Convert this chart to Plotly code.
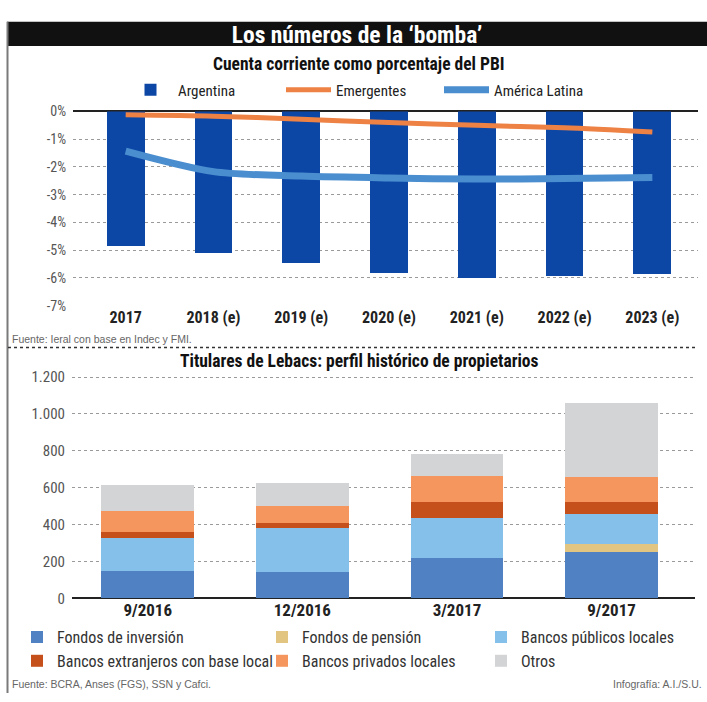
import plotly.graph_objects as go

# ---------------- data ----------------
years = ["2017", "2018 (e)", "2019 (e)", "2020 (e)", "2021 (e)", "2022 (e)", "2023 (e)"]
argentina = [-4.86, -5.09, -5.47, -5.82, -6.02, -5.95, -5.87]
emergentes = [-0.12, -0.17, -0.28, -0.40, -0.50, -0.59, -0.74]
america_latina = [-1.43, -2.17, -2.33, -2.40, -2.44, -2.42, -2.38]
pct_tickvals = [0, -1, -2, -3, -4, -5, -6, -7]
pct_ticktext = ["0%", "-1%", "-2%", "-3%", "-4%", "-5%", "-6%", "-7%"]

periodos = ["9/2016", "12/2016", "3/2017", "9/2017"]
fondos_inversion = [150, 145, 217, 250]
fondos_pension = [0, 0, 0, 43]
bancos_publicos = [176, 234, 219, 162]
bancos_extranjeros = [36, 32, 86, 66]
bancos_privados = [113, 90, 140, 136]
otros = [141, 122, 120, 402]
leb_tickvals = [0, 200, 400, 600, 800, 1000, 1200]
leb_ticktext = ["0", "200", "400", "600", "800", "1.000", "1.200"]

# ---------------- style ----------------
W, H = 707, 702
FONT = "Liberation Sans Narrow, Roboto Condensed, DejaVu Sans Condensed, Arial Narrow, Roboto, sans-serif"
SMALL = "Liberation Sans, Arial, Roboto, sans-serif"

def px_x(p):
    return p / W

def px_y(p):
    return 1 - p / H

fig = go.Figure()

# top chart
fig.add_trace(go.Bar(
    x=years, y=argentina, name="Argentina", width=0.43,
    marker=dict(color="#0d47a6", line=dict(width=0)),
    xaxis="x", yaxis="y", legend="legend"))
fig.add_trace(go.Scatter(
    x=years, y=emergentes, name="Emergentes", mode="lines",
    line=dict(color="#ee8245", width=5, shape="spline", smoothing=0.8),
    xaxis="x", yaxis="y", legend="legend"))
fig.add_trace(go.Scatter(
    x=years, y=america_latina, name="América Latina", mode="lines",
    line=dict(color="#4a8ecf", width=7, shape="spline", smoothing=0.8),
    xaxis="x", yaxis="y", legend="legend"))

# bottom chart (stack order bottom -> top); legend column for each series
stack = [
    ("Fondos de inversión", fondos_inversion, "#4f81c3", "legend2"),
    ("Fondos de pensión", fondos_pension, "#e3c582", "legend3"),
    ("Bancos públicos locales", bancos_publicos, "#84c0e9", "legend4"),
    ("Bancos extranjeros con base local", bancos_extranjeros, "#c5501c", "legend2"),
    ("Bancos privados locales", bancos_privados, "#f5965f", "legend3"),
    ("Otros", otros, "#d3d4d6", "legend4"),
]
for name, vals, col, leg in stack:
    fig.add_trace(go.Bar(
        x=periodos, y=vals, name=name, width=0.6, legendgroup=name,
        marker=dict(color=col, line=dict(width=0)),
        xaxis="x2", yaxis="y2", legend=leg))

grid = dict(showgrid=True, gridcolor="#9a9a9a", gridwidth=1, griddash="3px,3px")

def col_legend(xpx):
    return dict(orientation="v", x=px_x(xpx), xanchor="left", y=px_y(657), yanchor="middle",
                bgcolor="rgba(0,0,0,0)", tracegroupgap=3,
                font=dict(size=16, color="#333"), traceorder="normal")

fig.update_layout(
    width=W, height=H, autosize=False,
    margin=dict(l=0, r=0, t=0, b=0),
    paper_bgcolor="white", plot_bgcolor="white",
    font=dict(family=FONT, color="#333"),
    barmode="stack",
    showlegend=True,
    title=dict(text="Los números de la ‘bomba’", x=px_x(357), xanchor="center",
               y=px_y(27), yanchor="middle", yref="paper",
               font=dict(family=FONT, size=23.5, color="white", weight="bold")),
    xaxis=dict(domain=[px_x(73), px_x(698)], anchor="y", range=[-0.6, 6.52],
               showgrid=False, showline=False, ticks="",
               tickfont=dict(size=16, color="#222", weight="bold")),
    yaxis=dict(domain=[px_y(305), px_y(106)], anchor="x", range=[-7, 0],
               tickvals=pct_tickvals, ticktext=pct_ticktext, ticks="",
               tickfont=dict(size=14, color="#555"), ticklabelstandoff=6,
               zeroline=True, zerolinecolor="#222", zerolinewidth=2, **grid),
    xaxis2=dict(domain=[px_x(72), px_x(695)], anchor="y2", range=[-0.49, 3.54],
                showgrid=False, showline=False, ticks="",
                tickfont=dict(size=17, color="#222", weight="bold")),
    yaxis2=dict(domain=[px_y(605), px_y(376)], anchor="x2", range=[0, 1212],
                tickvals=leb_tickvals, ticktext=leb_ticktext, ticks="",
                tickfont=dict(size=15, color="#555"), ticklabelstandoff=6,
                zeroline=True, zerolinecolor="#222", zerolinewidth=2, **grid),
    legend=dict(orientation="h", x=px_x(123), xanchor="left", y=px_y(84), yanchor="middle",
                itemwidth=45, entrywidth=98, entrywidthmode="pixels", bgcolor="rgba(0,0,0,0)",
                font=dict(size=15, color="#222"), traceorder="normal"),
    legend2=col_legend(17),
    legend3=col_legend(262),
    legend4=col_legend(481),
    shapes=[
        dict(type="rect", xref="paper", yref="paper", x0=px_x(7), x1=1,
             y0=px_y(39), y1=px_y(14), fillcolor="#111", line=dict(width=0), layer="below"),
        dict(type="line", xref="paper", yref="paper", x0=px_x(7.5), x1=px_x(7.5),
             y0=0, y1=px_y(14), line=dict(color="#7a7a7a", width=2)),
        dict(type="line", xref="paper", yref="paper", x0=px_x(8), x1=px_x(696),
             y0=px_y(348), y1=px_y(348), line=dict(color="#333", width=1.5, dash="dot")),
    ],
    annotations=[
        dict(text="Cuenta corriente como porcentaje del PBI", xref="paper", yref="paper",
             x=px_x(359), y=px_y(57), xanchor="center", yanchor="middle", showarrow=False,
             font=dict(size=17.5, color="#111", weight="bold")),
        dict(text="Fuente: Ieral con base en Indec y FMI.", xref="paper", yref="paper",
             x=px_x(10), y=px_y(339), xanchor="left", yanchor="middle", showarrow=False,
             font=dict(family=SMALL, size=10.5, color="#666")),
        dict(text="Titulares de Lebacs: perfil histórico de propietarios", xref="paper", yref="paper",
             x=px_x(359), y=px_y(362), xanchor="center", yanchor="middle", showarrow=False,
             font=dict(size=17.5, color="#111", weight="bold")),
        dict(text="Fuente: BCRA, Anses (FGS), SSN y Cafci.", xref="paper", yref="paper",
             x=px_x(10), y=px_y(693), xanchor="left", yanchor="middle", showarrow=False,
             font=dict(family=SMALL, size=10.5, color="#666")),
        dict(text="Infografía: A.I./S.U.", xref="paper", yref="paper",
             x=px_x(704), y=px_y(693), xanchor="right", yanchor="middle", showarrow=False,
             font=dict(family=SMALL, size=10.5, color="#666")),
    ],
)

fig.write_html("out.html")
